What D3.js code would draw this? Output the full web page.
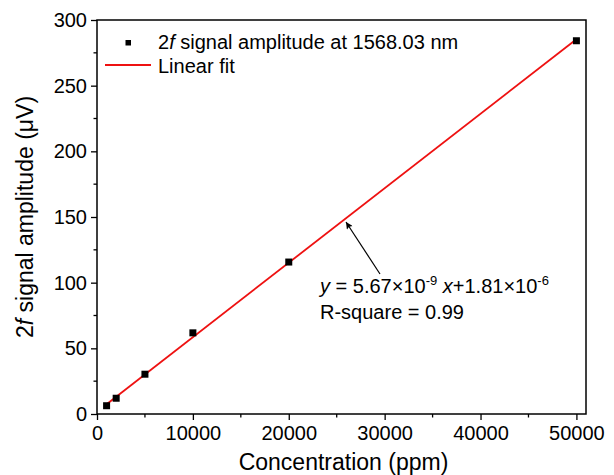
<!DOCTYPE html>
<html>
<head>
<meta charset="utf-8">
<script src="https://cdn.jsdelivr.net/npm/d3@7"></script>
<style>
  body { margin: 0; background: #fff; }
  text { font-family: "Liberation Sans", Arial, sans-serif; fill: #000; }
</style>
</head>
<body>
<svg id="chart" width="614" height="475"></svg>
<script>
// measured points: concentration (ppm) vs 2f amplitude (uV)
const concentration = [1000, 2000, 5000, 10000, 20000, 50000];
const amplitude = [6.3, 12.0, 30.3, 61.8, 115.7, 284.2];

// linear fit end points
const fitX = [1000, 50000];
const fitY = [7.48, 285.3];

const xTicks = [0, 10000, 20000, 30000, 40000, 50000];
const yTicks = [0, 50, 100, 150, 200, 250, 300];

const svg = d3.select('#chart');
const margin = { left: 97, right: 28, top: 20, bottom: 61 };
const width = 614 - margin.left - margin.right;
const height = 475 - margin.top - margin.bottom;

const x = d3.scaleLinear().domain([0, 51000]).range([margin.left, margin.left + width]);
const y = d3.scaleLinear().domain([0, 300]).range([margin.top + height, margin.top]);

// minor ticks
const xMinor = d3.range(5000, 51000, 10000);
const yMinor = d3.range(25, 300, 50);

svg.append('g')
    .selectAll('line.xm')
    .data(xMinor)
    .join('line')
    .attr('x1', d => x(d)).attr('x2', d => x(d))
    .attr('y1', y(0)).attr('y2', y(0) + 3.5)
    .attr('stroke', '#000').attr('stroke-width', 1.3);

svg.append('g')
    .selectAll('line.ym')
    .data(yMinor)
    .join('line')
    .attr('x1', x(0) - 3.5).attr('x2', x(0))
    .attr('y1', d => y(d)).attr('y2', d => y(d))
    .attr('stroke', '#000').attr('stroke-width', 1.3);

// axes
const xAxis = svg.append('g')
    .attr('transform', `translate(0,${y(0)})`)
    .call(d3.axisBottom(x).tickValues(xTicks).tickSize(6).tickPadding(4).tickSizeOuter(0).tickFormat(d3.format('d')));
const yAxis = svg.append('g')
    .attr('transform', `translate(${x(0)},0)`)
    .call(d3.axisLeft(y).tickValues(yTicks).tickSize(6).tickPadding(4).tickSizeOuter(0));

[xAxis, yAxis].forEach(a => {
    a.select('.domain').remove();
    a.selectAll('line').attr('stroke-width', 1.3);
    a.selectAll('text').attr('font-size', 20).attr('font-family', '"Liberation Sans", Arial, sans-serif');
});
xAxis.selectAll('text').attr('dy', '0.78em');

// frame
svg.append('rect')
    .attr('x', x(0)).attr('y', y(300))
    .attr('width', x(51000) - x(0)).attr('height', y(0) - y(300))
    .attr('fill', 'none').attr('stroke', '#000').attr('stroke-width', 1.5);

// fit line
svg.append('path')
    .datum(fitX.map((d, i) => [d, fitY[i]]))
    .attr('d', d3.line().x(d => x(d[0])).y(d => y(d[1])))
    .attr('stroke', '#ee1111').attr('stroke-width', 1.8).attr('fill', 'none');

// data points
const sq = 7;
svg.append('g')
    .selectAll('rect')
    .data(concentration.map((d, i) => [d, amplitude[i]]))
    .join('rect')
    .attr('x', d => x(d[0]) - sq / 2)
    .attr('y', d => y(d[1]) - sq / 2)
    .attr('width', sq).attr('height', sq)
    .attr('fill', '#000');

// axis titles
svg.append('text')
    .attr('x', (x(0) + x(51000)) / 2 + 2).attr('y', 470)
    .attr('text-anchor', 'middle').attr('font-size', 23)
    .text('Concentration (ppm)');

const yt = svg.append('text')
    .attr('transform', `translate(33,${(y(0) + y(300)) / 2}) rotate(-90)`)
    .attr('text-anchor', 'middle').attr('font-size', 23);
yt.append('tspan').text('2');
yt.append('tspan').attr('font-style', 'italic').text('f');
yt.append('tspan').text(' signal amplitude (μV)');

// legend
svg.append('rect')
    .attr('x', 125.5).attr('y', 40).attr('width', 5.5).attr('height', 5.5).attr('fill', '#000');
const l1 = svg.append('text').attr('x', 158).attr('y', 48.5).attr('font-size', 20);
l1.append('tspan').text('2');
l1.append('tspan').attr('font-style', 'italic').text('f');
l1.append('tspan').text(' signal amplitude at 1568.03 nm');

svg.append('line')
    .attr('x1', 105).attr('x2', 151).attr('y1', 65).attr('y2', 65)
    .attr('stroke', '#ee1111').attr('stroke-width', 1.8);
svg.append('text').attr('x', 158).attr('y', 72.5).attr('font-size', 20).text('Linear fit');

// arrow annotation
svg.append('defs').append('marker')
    .attr('id', 'arrow')
    .attr('viewBox', '0 0 10 10')
    .attr('refX', 10).attr('refY', 5)
    .attr('markerWidth', 11).attr('markerHeight', 7)
    .attr('markerUnits', 'userSpaceOnUse')
    .attr('orient', 'auto')
    .append('path').attr('d', 'M0,0 L10,5 L0,10 L2,5 Z').attr('fill', '#000');

svg.append('line')
    .attr('x1', 380).attr('y1', 274).attr('x2', 346).attr('y2', 222)
    .attr('stroke', '#000').attr('stroke-width', 1.2)
    .attr('marker-end', 'url(#arrow)');

const eq = svg.append('text').attr('x', 320).attr('y', 293).attr('font-size', 20);
eq.append('tspan').attr('font-style', 'italic').text('y');
eq.append('tspan').text(' = 5.67×10');
eq.append('tspan').attr('font-size', 13).attr('dy', -8).text('-9');
eq.append('tspan').attr('dy', 8).text(' ');
eq.append('tspan').attr('font-style', 'italic').text('x');
eq.append('tspan').text('+1.81×10');
eq.append('tspan').attr('font-size', 13).attr('dy', -8).text('-6');

svg.append('text').attr('x', 320).attr('y', 319).attr('font-size', 20).text('R-square = 0.99');
</script>
</body>
</html>
